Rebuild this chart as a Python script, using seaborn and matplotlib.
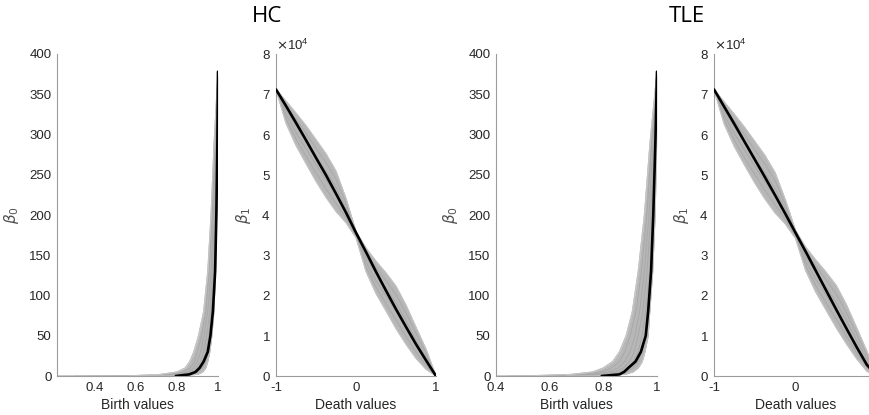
import numpy as np
import pandas as pd
import matplotlib
matplotlib.use("Agg")
import matplotlib.pyplot as plt
import seaborn as sns
from matplotlib.ticker import ScalarFormatter, FixedLocator, FixedFormatter

# ---------------- data ----------------
group_titles = ["HC", "TLE"]

# Birth panels: beta_0 levels shared by every curve (first entry = curve start on the baseline)
birth_levels = [0, 2, 5, 10, 18, 30, 50, 80, 130, 200, 290, 378]
gray_birth_levels = [0] + birth_levels

hc_birth_black = [0.794, 0.86, 0.89, 0.91, 0.93, 0.95, 0.963, 0.975, 0.986, 0.992, 0.997, 1.0]
hc_birth_gray = [
    [0.214, 0.55, 0.72, 0.80, 0.84, 0.862, 0.882, 0.905, 0.93, 0.95, 0.966, 0.981, 1.0],
    [0.30, 0.62, 0.76, 0.83, 0.865, 0.885, 0.90, 0.92, 0.94, 0.957, 0.972, 0.985, 1.0],
    [0.35, 0.66, 0.80, 0.855, 0.88, 0.90, 0.915, 0.932, 0.95, 0.966, 0.978, 0.988, 1.0],
    [0.45, 0.70, 0.83, 0.87, 0.895, 0.915, 0.93, 0.945, 0.96, 0.972, 0.983, 0.991, 1.0],
    [0.50, 0.72, 0.85, 0.885, 0.91, 0.928, 0.942, 0.955, 0.967, 0.978, 0.987, 0.994, 1.0],
    [0.55, 0.75, 0.87, 0.90, 0.922, 0.94, 0.952, 0.963, 0.973, 0.983, 0.99, 0.996, 1.0],
    [0.60, 0.78, 0.90, 0.925, 0.94, 0.95, 0.96, 0.97, 0.98, 0.988, 0.993, 0.998, 1.0],
]

tle_birth_black = [0.794, 0.86, 0.877, 0.893, 0.92, 0.94, 0.958, 0.967, 0.978, 0.986, 0.994, 1.0]
tle_birth_gray = [
    [0.40, 0.50, 0.68, 0.76, 0.80, 0.835, 0.86, 0.885, 0.908, 0.93, 0.953, 0.974, 1.0],
    [0.45, 0.58, 0.72, 0.79, 0.83, 0.86, 0.88, 0.90, 0.922, 0.942, 0.962, 0.98, 1.0],
    [0.50, 0.62, 0.75, 0.82, 0.855, 0.88, 0.90, 0.918, 0.935, 0.953, 0.97, 0.985, 1.0],
    [0.55, 0.66, 0.79, 0.845, 0.875, 0.898, 0.915, 0.93, 0.947, 0.963, 0.977, 0.989, 1.0],
    [0.58, 0.70, 0.82, 0.865, 0.893, 0.913, 0.93, 0.944, 0.958, 0.972, 0.984, 0.993, 1.0],
    [0.62, 0.73, 0.85, 0.885, 0.91, 0.93, 0.943, 0.956, 0.966, 0.979, 0.989, 0.996, 1.0],
    [0.66, 0.76, 0.88, 0.91, 0.93, 0.945, 0.955, 0.967, 0.973, 0.984, 0.993, 0.999, 1.0],
]

# Death panels: beta_1 in units of 10^4 at these death values
death_x = [-1, -0.875, -0.75, -0.625, -0.5, -0.375, -0.25, -0.125, 0,
           0.125, 0.25, 0.375, 0.5, 0.625, 0.75, 0.875, 1]
hc_death_black = [7.12, 6.71, 6.29, 5.86, 5.42, 4.99, 4.53, 4.06, 3.56,
                  3.08, 2.59, 2.12, 1.66, 1.22, 0.79, 0.39, 0.0]
hc_death_gray = [
    [7.12, 6.28, 5.73, 5.28, 4.84, 4.44, 4.09, 3.81, 3.44, 2.60, 2.05, 1.62, 1.18, 0.79, 0.44, 0.17, 0.0],
    [7.12, 6.39, 5.89, 5.46, 5.05, 4.65, 4.29, 3.93, 3.47, 2.71, 2.21, 1.80, 1.39, 0.98, 0.59, 0.27, 0.0],
    [7.12, 6.50, 6.05, 5.65, 5.25, 4.87, 4.49, 4.05, 3.50, 2.83, 2.37, 1.99, 1.60, 1.17, 0.75, 0.37, 0.0],
    [7.12, 6.61, 6.21, 5.84, 5.46, 5.08, 4.69, 4.17, 3.53, 2.94, 2.53, 2.18, 1.81, 1.37, 0.90, 0.47, 0.0],
    [7.12, 6.72, 6.37, 6.03, 5.66, 5.30, 4.89, 4.29, 3.56, 3.06, 2.69, 2.37, 2.02, 1.56, 1.06, 0.57, 0.0],
    [7.12, 6.83, 6.53, 6.22, 5.87, 5.52, 5.09, 4.41, 3.59, 3.18, 2.85, 2.56, 2.23, 1.76, 1.21, 0.67, 0.0],
]
tle_death_black = [7.12, 6.69, 6.26, 5.82, 5.38, 4.94, 4.49, 4.03, 3.56,
                   3.09, 2.61, 2.13, 1.65, 1.18, 0.72, 0.28, 0.0]
tle_death_gray = [
    [7.12, 6.26, 5.70, 5.24, 4.80, 4.40, 4.05, 3.78, 3.42, 2.62, 2.08, 1.64, 1.20, 0.80, 0.43, 0.12, 0.0],
    [7.12, 6.37, 5.86, 5.42, 5.01, 4.61, 4.25, 3.90, 3.46, 2.73, 2.24, 1.82, 1.41, 0.99, 0.58, 0.22, 0.0],
    [7.12, 6.48, 6.02, 5.61, 5.21, 4.83, 4.45, 4.02, 3.50, 2.85, 2.40, 2.01, 1.62, 1.18, 0.74, 0.32, 0.0],
    [7.12, 6.59, 6.18, 5.80, 5.42, 5.04, 4.65, 4.14, 3.54, 2.96, 2.56, 2.20, 1.83, 1.38, 0.89, 0.42, 0.0],
    [7.12, 6.70, 6.34, 5.99, 5.62, 5.26, 4.85, 4.26, 3.58, 3.08, 2.72, 2.39, 2.04, 1.57, 1.05, 0.52, 0.0],
    [7.12, 6.81, 6.50, 6.18, 5.83, 5.48, 5.05, 4.38, 3.62, 3.20, 2.88, 2.58, 2.25, 1.77, 1.20, 0.62, 0.0],
]
death_scale = 1e4

birth_xlims = [(0.214, 1.0), (0.4, 1.0)]
birth_xticks = [0.4, 0.6, 0.8, 1.0]
birth_xticklabels = ["0.4", "0.6", "0.8", "1"]
birth_yticks = [0, 50, 100, 150, 200, 250, 300, 350, 400]
death_xticks = [-1, 0, 1]
death_xticklabels = ["-1", "0", "1"]
death_yticks = [0, 1e4, 2e4, 3e4, 4e4, 5e4, 6e4, 7e4, 8e4]

# ---------------- style ----------------
sns.set_theme(style="white")
plt.rcParams['font.family'] = ['Liberation Sans', 'DejaVu Sans']
plt.rcParams['axes.unicode_minus'] = False
plt.rcParams['mathtext.fontset'] = 'dejavusans'

AX_COL = '#9c9c9c'
TXT_COL = '#262626'
GRAY = '#a9a9a9'
BAND = '#b7b7b7'
EDGE = '#c6c6c6'

W, H = 870, 415
fig = plt.figure(figsize=(W / 100, H / 100), dpi=100)


def px_axes(left, right, top, bottom):
    return fig.add_axes([left / W, 1 - bottom / H, (right - left) / W, (bottom - top) / H])


def style_axes(ax):
    sns.despine(ax=ax)
    for s in ['left', 'bottom']:
        ax.spines[s].set_color(AX_COL)
        ax.spines[s].set_linewidth(0.8)
    ax.tick_params(direction='in', length=3.5, width=0.8, color=AX_COL,
                   labelsize=9.5, labelcolor=TXT_COL, pad=4)
    ax.set_facecolor('white')


def birth_panel(ax, gray, black, xlim):
    rows = []
    for i, xs in enumerate(gray):
        for xv, yv in zip(xs, gray_birth_levels):
            rows.append({'x': xv, 'y': yv, 'curve': i})
    gdf = pd.DataFrame(rows)
    ax.fill_betweenx(gray_birth_levels, gray[0], gray[-1], color=BAND, lw=0, zorder=1)
    sns.lineplot(data=gdf, x='x', y='y', units='curve', estimator=None, sort=False,
                 color=GRAY, lw=0.7, ax=ax, zorder=2)
    for edge in (gray[0], gray[-1]):
        sns.lineplot(x=edge, y=gray_birth_levels, sort=False, estimator=None,
                     color=EDGE, lw=0.8, ax=ax, zorder=2)
    sns.lineplot(x=black, y=birth_levels, sort=False, estimator=None,
                 color='black', lw=1.9, ax=ax, zorder=3)
    ax.set_xlim(*xlim)
    ax.set_ylim(0, 400)
    ax.xaxis.set_major_locator(FixedLocator(birth_xticks))
    ax.xaxis.set_major_formatter(FixedFormatter(birth_xticklabels))
    ax.yaxis.set_major_locator(FixedLocator(birth_yticks))
    ax.set_xlabel('Birth values', fontsize=10, color=TXT_COL, labelpad=3)
    ax.set_ylabel(r'$\beta_0$', fontsize=11, color='#505050', labelpad=6)


def death_panel(ax, gray, black, hide_last_tick=False):
    rows = []
    for i, ys in enumerate(gray):
        for xv, yv in zip(death_x, ys):
            rows.append({'x': xv, 'y': yv * death_scale, 'curve': i})
    gdf = pd.DataFrame(rows)
    arr = gdf.pivot(index='x', columns='curve', values='y')
    ax.fill_between(arr.index, arr.min(axis=1), arr.max(axis=1), color=BAND, lw=0, zorder=1)
    sns.lineplot(data=gdf, x='x', y='y', units='curve', estimator=None, sort=False,
                 color=GRAY, lw=0.7, ax=ax, zorder=2)
    for c in (0, len(gray) - 1):
        sns.lineplot(x=death_x, y=[v * death_scale for v in gray[c]], sort=False,
                     estimator=None, color=EDGE, lw=0.8, ax=ax, zorder=2)
    sns.lineplot(x=death_x, y=[v * death_scale for v in black], sort=False, estimator=None,
                 color='black', lw=1.9, ax=ax, zorder=3)
    ax.set_xlim(-1, 1)
    ax.set_ylim(0, 8e4)
    ax.xaxis.set_major_locator(FixedLocator(death_xticks))
    labels = list(death_xticklabels)
    if hide_last_tick:
        labels[-1] = ""
    ax.xaxis.set_major_formatter(FixedFormatter(labels))
    ax.yaxis.set_major_locator(FixedLocator(death_yticks))
    fmt = ScalarFormatter(useMathText=True)
    fmt.set_powerlimits((0, 0))
    ax.yaxis.set_major_formatter(fmt)
    ax.yaxis.get_offset_text().set_fontsize(9.5)
    ax.yaxis.get_offset_text().set_color(TXT_COL)
    ax.set_xlabel('Death values', fontsize=10, color=TXT_COL, labelpad=3)
    ax.set_ylabel(r'$\beta_1$', fontsize=11, color='#505050', labelpad=6)


ax1 = px_axes(57, 218, 54, 376)
ax2 = px_axes(276, 436, 54, 376)
ax3 = px_axes(496, 657, 54, 376)
ax4 = px_axes(714, 877, 54, 376)

for ax in (ax1, ax2, ax3, ax4):
    style_axes(ax)

birth_panel(ax1, hc_birth_gray, hc_birth_black, birth_xlims[0])
death_panel(ax2, hc_death_gray, hc_death_black)
birth_panel(ax3, tle_birth_gray, tle_birth_black, birth_xlims[1])
death_panel(ax4, tle_death_gray, tle_death_black, hide_last_tick=True)

fig.text(267 / W, 1 - 16 / H, group_titles[0], ha='center', va='center',
         fontsize=16, family=['Open Sans', 'DejaVu Sans'], color='black')
fig.text(687 / W, 1 - 16 / H, group_titles[1], ha='center', va='center',
         fontsize=16, family=['Open Sans', 'DejaVu Sans'], color='black')

fig.savefig('out.png', dpi=100, facecolor='white')
